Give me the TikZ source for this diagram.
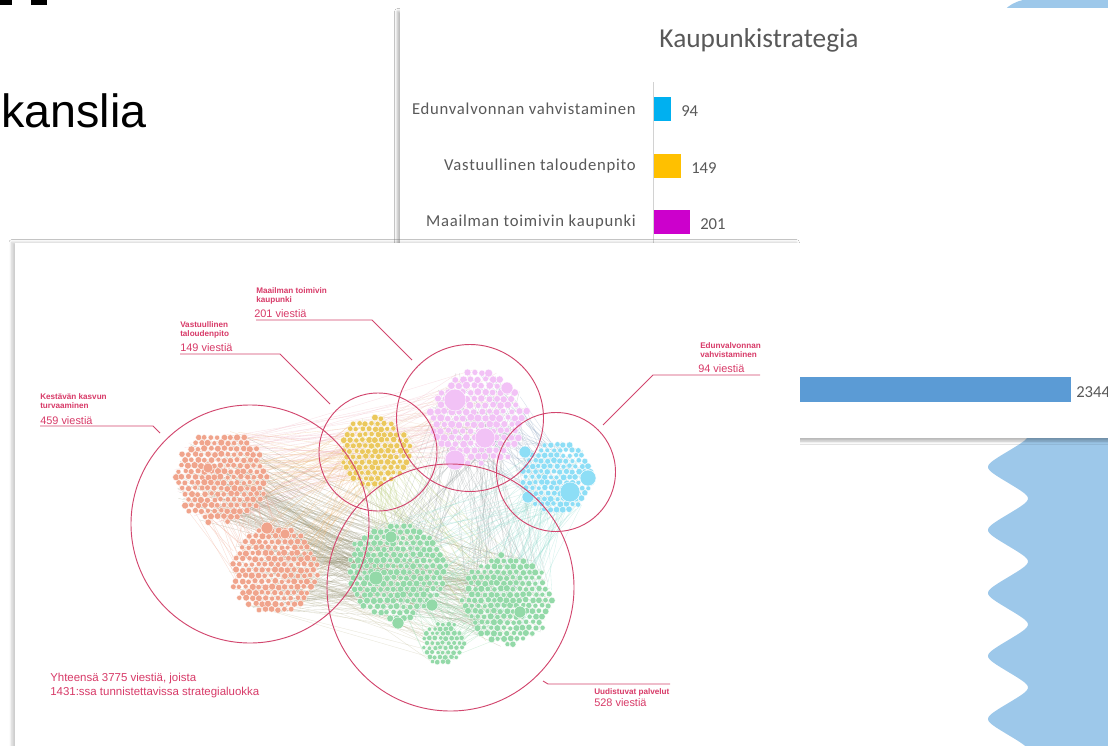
\documentclass[tikz,border=0pt]{standalone}
\usepackage{fontspec}
\setmainfont{Liberation Sans}
\newfontfamily\calfont{Carlito}
\newfontfamily\calspaced{Carlito}[LetterSpace=4.5]
\usetikzlibrary{shadows.blur}
\definecolor{bluebg}{HTML}{9DC8EA}
\definecolor{crim}{HTML}{D2466E}
\definecolor{labc}{HTML}{D83A68}
\definecolor{salm}{HTML}{F0A48C}
\definecolor{yel}{HTML}{EBC85C}
\definecolor{pnk}{HTML}{F2C2F6}
\definecolor{cyn}{HTML}{8DDEF6}
\definecolor{grn}{HTML}{93D9A8}
\definecolor{txtg}{HTML}{595959}
\definecolor{barA}{HTML}{00B0F0}
\definecolor{barB}{HTML}{FFC000}
\definecolor{barC}{HTML}{CC00CC}
\definecolor{barD}{HTML}{5B9BD5}
\newcommand\mkcluster[6]{%
  \foreach \qi in {-#6,...,#6}{%
    \foreach \qj in {-#6,...,#6}{%
      \pgfmathsetmacro\qx{#1+#5*(\qi+0.5*mod(abs(\qj),2))+(rnd-0.5)*0.2*#5}%
      \pgfmathsetmacro\qy{#2+0.87*#5*\qj+(rnd-0.5)*0.2*#5}%
      \pgfmathtruncatemacro\qin{((\qx-#1)^2+(\qy-#2)^2<(#3-0.12*#3*rnd)^2)?1:0}%
      \ifnum\qin=1
        \pgfmathsetmacro\qr{#5*(0.38+0.16*rnd)}%
        \fill[#4,draw=white,line width=0.25pt] (\qx,\qy) circle (\qr);
      \fi
    }}}
\newcommand\mkedges[8]{%
  \foreach \qk in {1,...,#7}{%
    \pgfmathsetmacro\ea{360*rnd}\pgfmathsetmacro\rA{#3*sqrt(rnd)}%
    \pgfmathsetmacro\eb{360*rnd}\pgfmathsetmacro\rB{#6*sqrt(rnd)}%
    \draw[#8,line width=0.25pt,opacity=0.4] ({#1+\rA*cos(\ea)},{#2+\rA*sin(\ea)}) -- ({#4+\rB*cos(\eb)},{#5+\rB*sin(\eb)});
  }}
\newcommand\bub[4]{\fill[#4,draw=white,line width=0.3pt] (#1,#2) circle (#3);}
\begin{document}
\begin{tikzpicture}[x=0.75pt,y=-0.75pt,
  ring/.style={draw=crim,line width=0.7pt},
  lead/.style={draw=crim,line width=0.7pt},
  labb/.style={font=\bfseries\fontsize{6.1}{7}\selectfont,text=labc,inner sep=0,align=left},
  labn/.style={font=\fontsize{8.2}{9.5}\selectfont,text=labc,inner sep=0},
  clab/.style={font=\calspaced\fontsize{12.5}{14}\selectfont,text=txtg,inner sep=0},
  cval/.style={font=\calfont\fontsize{12.5}{14}\selectfont,text=txtg,inner sep=0},
]
\clip (0,0) rectangle (1108,746);
\fill[white] (0,0) rectangle (1108,746);
\pgfmathsetseed{7}
% top-left title remnants
\fill[black] (0,0) rectangle (12,4.5);
\fill[black] (31,0) rectangle (47,5);
\node[anchor=base west,inner sep=0,font=\fontsize{35}{40}\selectfont] (kan) at (1,127) {kanslia};
% right blue shape
\fill[bluebg] (1023,0) .. controls (1015,2) and (1009,5) .. (1005,10) -- (1005,434) -- (1108,434) -- (1108,0) -- cycle;
\fill[bluebg] (1108,430) -- (1028,430) -- plot[domain=430:750,samples=240,variable=\t] ({1008-20*asin(0.85*cos((\t-467)/63*360))/58.21}, \t) -- (1108,750) -- cycle;
% chart panel
\fill[white,blur shadow={shadow xshift=-2pt,shadow yshift=-2.5pt,shadow blur radius=2pt,shadow opacity=28}] (400,8) rectangle (1140,438);
\node[font=\calfont\fontsize{20.5}{24}\selectfont,text=txtg] (title) at (759,40) {Kaupunkistrategia};
\draw[gray!35,line width=0.75pt] (653.5,82) -- (653.5,430);
\fill[barA] (654,97) rectangle (671,121);
\fill[barB] (654,154) rectangle (681,178);
\fill[barC] (654,210) rectangle (690,234);
\fill[barD] (654,377) rectangle (1071,402);
\node[clab,anchor=east] (l1) at (636,109) {Edunvalvonnan vahvistaminen};
\node[clab,anchor=east] (l2) at (636,166) {Vastuullinen taloudenpito};
\node[clab,anchor=east] (l3) at (636,222) {Maailman toimivin kaupunki};
\node[cval,anchor=west] (v1) at (681,111) {94};
\node[cval,anchor=west] (v2) at (691,168) {149};
\node[cval,anchor=west] (v3) at (700,224) {201};
\node[cval,anchor=west] (v4) at (1076,392) {2344};
% network panel
\fill[white,blur shadow={shadow xshift=-2.5pt,shadow yshift=0.5pt,shadow blur radius=2pt,shadow opacity=20}] (15,243) rectangle (800,780);
% edges
\mkedges{221}{477}{48}{375}{450}{36}{45}{salm!50!yel}
\mkedges{221}{477}{48}{478}{418}{50}{45}{salm!50!pnk}
\mkedges{221}{477}{48}{397}{572}{52}{55}{salm!50!grn!80!black}
\mkedges{221}{477}{48}{507}{600}{47}{45}{salm!50!grn!80!black}
\mkedges{275}{570}{46}{397}{572}{52}{55}{salm!50!grn!80!black}
\mkedges{275}{570}{46}{507}{600}{47}{45}{salm!50!grn!80!black}
\mkedges{275}{570}{46}{375}{450}{36}{30}{salm!50!yel}
\mkedges{275}{570}{46}{443}{643}{22}{20}{salm!50!grn}
\mkedges{221}{477}{48}{275}{570}{46}{40}{salm}
\mkedges{375}{450}{36}{478}{418}{50}{30}{yel!50!pnk}
\mkedges{375}{450}{36}{397}{572}{52}{30}{yel!50!grn}
\mkedges{375}{450}{36}{507}{600}{47}{25}{yel!50!grn}
\mkedges{478}{418}{50}{557}{477}{38}{45}{pnk!40!cyn!80!black}
\mkedges{478}{418}{50}{397}{572}{52}{30}{pnk!50!grn!80!black}
\mkedges{478}{418}{50}{507}{600}{47}{40}{pnk!50!grn!80!black}
\mkedges{557}{477}{38}{507}{600}{47}{45}{cyn!50!grn}
\mkedges{557}{477}{38}{397}{572}{52}{30}{cyn!50!grn}
\mkedges{397}{572}{52}{507}{600}{47}{40}{grn}
\mkedges{397}{572}{52}{443}{643}{22}{20}{grn}
\mkedges{507}{600}{47}{443}{643}{22}{20}{grn}
% clusters
\mkcluster{221}{477}{48}{salm}{6.5}{9}
\mkcluster{275}{570}{46}{salm}{6.5}{9}
\mkcluster{375}{451}{37}{yel}{6.3}{8}
\mkcluster{478}{418}{50}{pnk}{7.4}{9}
\mkcluster{557}{477}{38}{cyn}{6.2}{8}
\mkcluster{397}{572}{52}{grn}{6.6}{10}
\mkcluster{507}{600}{47}{grn}{6.4}{9}
\mkcluster{443}{643}{22}{grn}{5.4}{5}
% big bubbles
\bub{208}{468}{5}{salm}
\bub{267}{528}{6}{salm}
\bub{285}{534}{5}{salm}
\bub{455}{400}{11}{pnk}
\bub{485}{438}{10}{pnk}
\bub{455}{460}{10}{pnk}
\bub{507}{388}{6}{pnk}
\bub{588}{478}{8}{cyn}
\bub{570}{492}{10}{cyn}
\bub{525}{452}{6}{cyn}
\bub{528}{497}{6}{cyn}
\bub{376}{578}{7}{grn}
\bub{391}{537}{6}{grn}
\bub{432}{605}{6}{grn}
\bub{398}{623}{6}{grn}
\bub{520}{612}{6}{grn}
% category rings
\draw[ring] (250,524) circle (119);
\draw[ring] (378,452) circle (59);
\draw[ring] (470,418) circle (73.5);
\draw[ring] (556,472) circle (59.5);
\draw[ring] (450.5,587.5) circle (123.5);
% labels
\node[labb,anchor=north west] (m1) at (256,287) {Maailman toimivin\\kaupunki};
\node[labn,anchor=base west] (m2) at (254,317) {201 viestiä};
\draw[lead] (256,320) -- (372,320) -- (412,360);
\node[labb,anchor=north west] (t1) at (180,321) {Vastuullinen\\taloudenpito};
\node[labn,anchor=base west] (t2) at (180,351) {149 viestiä};
\draw[lead] (180,354) -- (280,354) -- (330,404);
\node[labb,anchor=north west] (k1) at (40,393) {Kestävän kasvun\\turvaaminen};
\node[labn,anchor=base west] (k2) at (40,424) {459 viestiä};
\draw[lead] (40,426) -- (153,426) -- (160,433);
\node[labb,anchor=north west] (e1) at (700,342) {Edunvalvonnan\\vahvistaminen};
\node[labn,anchor=base west] (e2) at (698,372) {94 viestiä};
\draw[lead] (760,375) -- (653,375) -- (603,425);
\node[labb,anchor=base west] (u1) at (594,694) {Uudistuvat palvelut};
\node[labn,anchor=base west] (u2) at (594,706) {528 viestiä};
\draw[lead] (543,681) -- (548,684) -- (670,684);
\node[labn,anchor=base west,align=left,font=\fontsize{8.6}{10.5}\selectfont] (tot) at (50,695) {Yhteensä 3775 viestiä, joista\\1431:ssa tunnistettavissa strategialuokka};
\end{tikzpicture}
\end{document}
